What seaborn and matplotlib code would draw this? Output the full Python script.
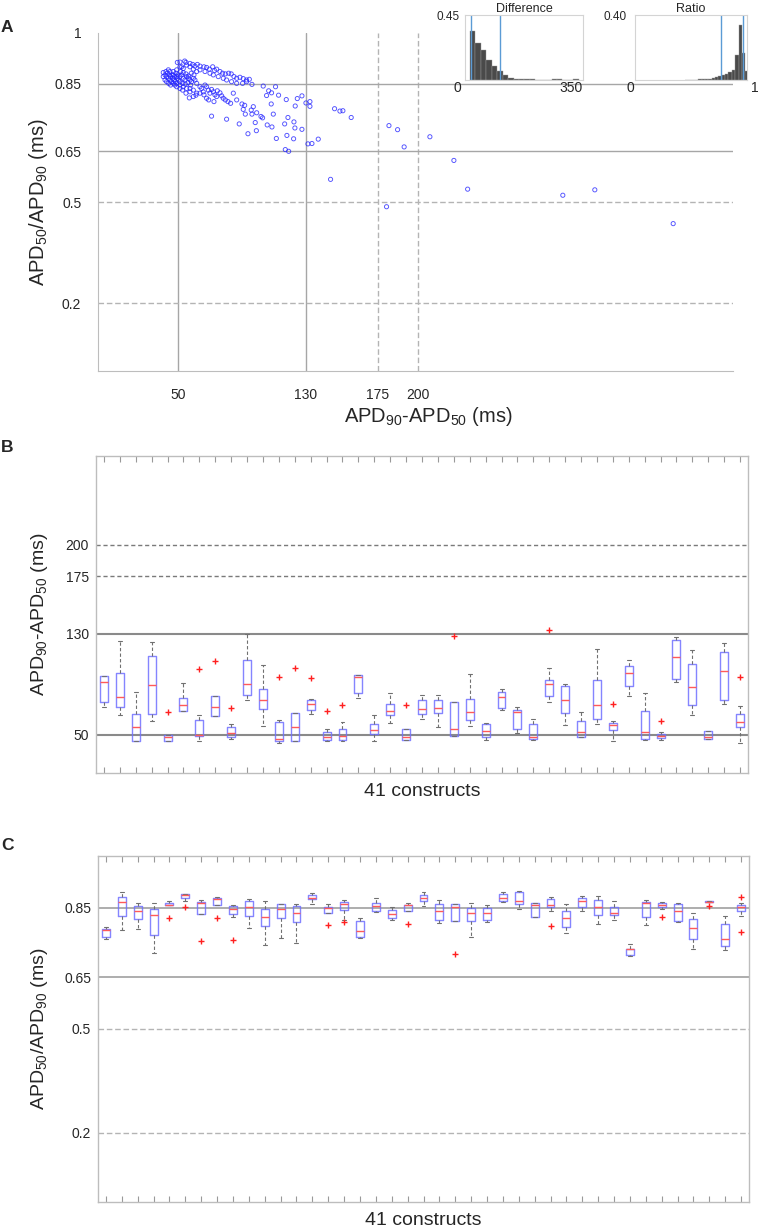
import matplotlib
matplotlib.use('Agg')
import matplotlib.pyplot as plt
import seaborn as sns
import numpy as np
import pandas as pd

# ---------------- panel A: APD90-APD50 vs APD50/APD90 ----------------
diff_ms = [
    # sparse points
    57.1, 71.0, 80.4, 88.3, 93.75, 99.0, 103.3, 111.0, 106.7, 108.5, 105.4, 112.9, 108.3, 109.6,
    117.7, 124.6, 127.5, 123.3, 130.0, 132.5, 132.5, 118.75, 116.7, 122.5, 123.1, 127.5, 118.1,
    122.3, 111.5, 105.8, 108.75, 101.9, 102.9, 98.3, 96.25, 99.2, 95.8, 97.1, 91.7, 90.8, 90.0,
    92.1, 117.1, 119.2, 131.25, 133.75, 137.7, 147.9, 151.25, 153.1, 158.3, 145.4, 180.4, 181.9,
    187.3, 191.4, 207.5, 222.5, 231.1, 290.6, 310.6, 359.6,
    # upper band
    49.6, 51.25, 54.2, 55.0, 52.3, 57.5, 59.2, 60.6, 62.1, 63.75, 66.25, 67.9, 69.6, 71.7, 72.9,
    74.2, 76.25, 77.9, 79.6, 81.7, 83.3, 85.0, 86.7, 88.75, 90.8, 92.9, 94.6, 96.25, 90.4, 92.9,
    86.7, 83.5, 80.4, 78.3, 75.2, 72.1, 70.0, 66.9, 63.75, 61.7, 59.6, 57.5, 55.4, 53.3, 51.25,
    # lower band
    49.2, 51.25, 53.3, 55.4, 57.5, 59.6, 61.7, 63.75, 64.8, 65.8, 66.9, 67.9, 69.0, 70.0, 71.0,
    72.1, 73.1, 74.2, 74.6, 76.25, 77.3, 78.3, 79.6, 81.25, 82.9, 84.6, 86.7, 67.9, 69.2, 72.5,
    66.25, 63.75, 61.25, 59.6, 57.5, 55.0, 52.9, 51.25,
    # dense cluster
    40.8, 41.9, 42.9, 44.0, 45.0, 46.0, 47.1, 48.1, 49.2, 42.5, 43.3, 44.6, 45.4, 46.7, 47.5,
    48.3, 49.6, 50.4, 51.25, 52.3, 53.3, 54.4, 55.4, 56.5, 57.5, 58.5, 59.6, 60.6, 61.7, 41.9,
    42.9, 44.2, 45.4, 46.3, 47.9, 48.75, 50.0, 51.7, 53.3, 55.0, 56.7, 58.3, 60.0, 45.0, 47.1,
    49.2, 40.8, 44.0, 51.25, 52.9, 54.6, 56.25, 57.9, 47.1, 49.2,
]
ratio = [
    0.808, 0.754, 0.745, 0.731, 0.702, 0.711, 0.843, 0.841, 0.829, 0.823, 0.815, 0.816, 0.790, 0.760,
    0.803, 0.806, 0.814, 0.784, 0.793, 0.797, 0.783, 0.750, 0.731, 0.737, 0.719, 0.715, 0.697,
    0.687, 0.688, 0.728, 0.722, 0.753, 0.749, 0.735, 0.760, 0.764, 0.772, 0.782, 0.786, 0.774, 0.790,
    0.760, 0.655, 0.650, 0.672, 0.673, 0.686, 0.776, 0.769, 0.770, 0.750, 0.567, 0.486, 0.726,
    0.714, 0.663, 0.693, 0.623, 0.538, 0.520, 0.536, 0.436,
    0.913, 0.914, 0.917, 0.913, 0.900, 0.910, 0.907, 0.902, 0.907, 0.902, 0.900, 0.898, 0.893, 0.900, 0.889,
    0.893, 0.886, 0.881, 0.879, 0.881, 0.879, 0.871, 0.866, 0.869, 0.865, 0.861, 0.863, 0.848, 0.851, 0.856,
    0.851, 0.856, 0.861, 0.866, 0.871, 0.876, 0.881, 0.886, 0.891, 0.886, 0.893, 0.900, 0.905, 0.895, 0.900,
    0.851, 0.846, 0.841, 0.836, 0.836, 0.831, 0.822, 0.841, 0.836, 0.826, 0.846, 0.841, 0.831, 0.822, 0.833,
    0.826, 0.817, 0.812, 0.829, 0.823, 0.814, 0.807, 0.802, 0.797, 0.792, 0.822, 0.802, 0.807, 0.802, 0.797,
    0.817, 0.822, 0.816, 0.812, 0.826, 0.822, 0.831, 0.836,
    0.883, 0.876, 0.871, 0.866, 0.861, 0.856, 0.851, 0.846, 0.841, 0.886, 0.881, 0.876, 0.871, 0.866, 0.861,
    0.856, 0.866, 0.861, 0.871, 0.876, 0.866, 0.861, 0.871, 0.866, 0.861, 0.856, 0.866, 0.861, 0.851, 0.861,
    0.856, 0.851, 0.846, 0.876, 0.871, 0.881, 0.876, 0.886, 0.883, 0.879, 0.873, 0.881, 0.876, 0.886, 0.886,
    0.891, 0.871, 0.891, 0.856, 0.851, 0.849, 0.853, 0.846, 0.876, 0.871,
]

# inset histograms (fraction of cells per bin)
diff_bin_edges = [47, 62, 77, 92, 107, 122, 137, 152, 167, 182, 197, 212, 227, 242, 257, 272,
                  287, 302, 317, 332, 347]
diff_fraction = [0.339, 0.258, 0.208, 0.138, 0.097, 0.065, 0.035, 0.012, 0.008, 0.008, 0.006,
                 0.006, 0.002, 0.0, 0.0, 0.004, 0.004, 0.0, 0.0, 0.004]
ratio_bin_edges = [0.33, 0.36, 0.39, 0.42, 0.45, 0.48, 0.51, 0.54, 0.57, 0.60, 0.63, 0.66, 0.69,
                   0.72, 0.75, 0.78, 0.81, 0.84, 0.87, 0.90]
ratio_fraction = [0.003, 0.0, 0.003, 0.003, 0.004, 0.004, 0.006, 0.008, 0.012, 0.02, 0.025, 0.03,
                  0.037, 0.05, 0.062, 0.154, 0.338, 0.164, 0.057]

# ---------------- panel B: APD90-APD50 per construct ----------------
b_lo = [72.4, 65.5, 45.5, 60.8, 45.5, 69.2, 45.3, 65.2, 46.8, 77.6, 57.4, 44.0, 45.0, 66.2, 45.5,
        45.5, 79.0, 45.0, 59.7, 46.0, 62.9, 56.6, 49.2, 57.4, 46.0, 69.7, 51.3, 46.0, 75.7, 58.1,
        48.2, 58.4, 45.0, 80.5, 46.0, 46.0, 92.1, 65.5, 46.8, 74.1, 44.0]
b_q1 = [76.3, 71.8, 45.5, 66.8, 45.5, 69.2, 49.2, 65.2, 48.4, 81.3, 70.8, 45.0, 45.0, 69.9, 46.0,
        46.0, 82.8, 51.0, 66.0, 46.0, 66.2, 67.6, 49.2, 61.8, 48.2, 71.0, 54.4, 47.0, 80.5, 67.6,
        48.2, 62.9, 53.7, 88.4, 47.0, 47.6, 94.2, 73.4, 46.8, 77.3, 56.1]
b_med = [91.8, 79.7, 56.3, 89.2, 48.2, 73.4, 50.0, 72.3, 51.3, 90.0, 77.6, 47.0, 56.3, 74.6, 48.2,
         49.2, 95.5, 53.7, 68.9, 48.4, 70.2, 71.0, 54.4, 67.8, 53.4, 79.8, 67.8, 48.0, 89.9, 77.3,
         52.1, 73.4, 57.9, 99.2, 52.1, 49.2, 111.3, 87.6, 48.7, 100.3, 60.0]
b_q3 = [96.8, 98.7, 66.8, 112.1, 49.8, 79.5, 61.6, 80.5, 56.3, 108.9, 86.1, 60.0, 67.0, 77.2, 52.6,
        55.0, 97.4, 58.9, 74.1, 55.0, 77.6, 77.3, 75.7, 78.0, 58.4, 83.7, 69.9, 58.9, 93.1, 88.4,
        60.8, 93.4, 59.5, 104.2, 68.7, 51.0, 125.2, 105.7, 52.9, 115.7, 66.8]
b_hi = [96.8, 124.0, 84.0, 123.2, 49.8, 90.8, 65.5, 80.5, 58.4, 129.7, 105.0, 62.1, 67.0, 78.0, 55.0,
        60.5, 97.4, 65.5, 82.8, 55.0, 81.7, 81.6, 75.7, 97.9, 59.7, 86.1, 71.7, 62.9, 103.1, 90.5,
        68.4, 117.6, 61.3, 108.9, 83.4, 52.6, 127.6, 116.8, 52.9, 122.3, 73.1]
b_out_idx = [4, 6, 7, 8, 11, 12, 13, 14, 15, 19, 22, 28, 32, 35, 40]
b_out_val = [68.4, 102.1, 108.4, 71.0, 95.5, 102.6, 94.7, 68.9, 73.9, 73.4, 127.9, 132.6, 74.5, 60.8, 96.1]

# ---------------- panel C: APD50/APD90 per construct ----------------
c_lo = [.761, .785, .788, .721, .857, .871, .831, .859, .825, .792, .743, .762, .750, .862, .835,
        .815, .764, .837, .815, .841, .856, .805, .811, .767, .808, .868, .847, .825, .842, .778,
        .840, .804, .815, .710, .802, .847, .808, .732, .866, .729, .828]
c_q1 = [.765, .828, .819, .772, .857, .879, .831, .859, .831, .826, .798, .822, .808, .875, .835,
        .845, .767, .841, .821, .841, .870, .816, .811, .811, .816, .871, .860, .825, .852, .795,
        .852, .830, .830, .715, .824, .852, .811, .761, .867, .740, .841]
c_med = [.785, .866, .841, .829, .859, .887, .863, .875, .846, .854, .823, .848, .836, .879, .851,
         .862, .782, .856, .833, .857, .878, .842, .852, .836, .834, .879, .871, .857, .859, .820,
         .871, .852, .835, .731, .864, .859, .841, .793, .868, .761, .852]
c_q3 = [.789, .881, .856, .846, .865, .889, .866, .879, .855, .869, .846, .862, .856, .888, .852,
        .866, .811, .863, .843, .859, .887, .862, .860, .849, .850, .889, .895, .863, .875, .840,
        .878, .872, .853, .732, .866, .864, .862, .818, .869, .804, .859]
c_hi = [.794, .895, .864, .864, .869, .891, .873, .882, .859, .875, .869, .862, .862, .894, .862,
        .872, .820, .879, .852, .863, .896, .874, .861, .864, .859, .896, .898, .863, .881, .862,
        .884, .885, .871, .745, .872, .867, .865, .836, .869, .826, .863]
c_out_idx = [4, 5, 6, 7, 8, 14, 15, 19, 22, 28, 35, 38, 40, 40]
c_out_val = [.821, .854, .753, .821, .756, .800, .809, .804, .716, .797, .825, .856, .882, .779]

W, H = 759, 1232
LIGHT = '#bdbdbd'
GRID_SOLID = '#a6a6a6'
GRID_DASH = '#b4b4b4'


def frac(l, t, r, b):
    # pixel box -> figure fraction rect
    return [l / W, 1 - b / H, (r - l) / W, (b - t) / H]


def box_frame(lo, q1, med, q3, hi):
    rows = []
    for i in range(len(lo)):
        for v in (lo[i], q1[i], med[i], q3[i], hi[i]):
            rows.append((i, v))
    return pd.DataFrame(rows, columns=['construct', 'value'])


def draw_boxes(ax, df, out_idx, out_val):
    sns.boxplot(data=df, x='construct', y='value', ax=ax, whis=(0, 100), fill=False, width=0.5,
                boxprops=dict(color='#7070ff', linewidth=1.0, alpha=0.85),
                medianprops=dict(color='#ff5a5a', linewidth=1.0),
                whiskerprops=dict(color='#707070', linewidth=0.8, linestyle=(0, (3, 2))),
                capprops=dict(color='#707070', linewidth=0.8),
                showfliers=False)
    sns.scatterplot(x=out_idx, y=out_val, ax=ax, marker='+', color='#ff2020', s=22,
                    linewidth=1.0, zorder=5)
    ax.set_xlim(-0.5, 40.5)
    ax.set_xticks(range(41))
    ax.set_xticklabels([])
    ax.tick_params(axis='x', direction='in', top=True, bottom=True, length=4, width=0.8,
                   color='#999999')
    ax.tick_params(axis='y', length=0, labelsize=10, pad=5)
    ax.set_xlabel('41 constructs', fontsize=14)
    for s in ax.spines.values():
        s.set_color(LIGHT)
        s.set_linewidth(1.0)


def main():
    sns.set_style('white')
    plt.rcParams['font.family'] = ['Liberation Sans', 'DejaVu Sans']
    plt.rcParams['mathtext.fontset'] = 'custom'
    plt.rcParams['mathtext.rm'] = 'Liberation Sans'

    fig = plt.figure(figsize=(W / 100, H / 100), dpi=100)

    # ----- A -----
    axA = fig.add_axes(frac(98, 33, 733, 371))
    for x in (50, 130):
        axA.axvline(x, color=GRID_SOLID, lw=1.0, zorder=1)
    for x in (175, 200):
        axA.axvline(x, color=GRID_DASH, lw=1.0, ls=(0, (4, 2)), zorder=1)
    for y in (0.85, 0.65):
        axA.axhline(y, color=GRID_SOLID, lw=1.0, zorder=1)
    for y in (0.5, 0.2):
        axA.axhline(y, color=GRID_DASH, lw=1.0, ls=(0, (4, 2)), zorder=1)
    sns.scatterplot(x=diff_ms, y=ratio, ax=axA, facecolor='none', edgecolor='#2424ff', s=9,
                    linewidth=0.65, alpha=0.8, zorder=3)
    axA.set_xlim(0, 397)
    axA.set_ylim(0, 1)
    axA.set_xticks([50, 130, 175, 200])
    axA.set_yticks([0.2, 0.5, 0.65, 0.85, 1])
    axA.set_yticklabels(['0.2', '0.5', '0.65', '0.85', '1'])
    axA.tick_params(axis='x', length=0, labelsize=10, pad=12)
    axA.tick_params(axis='y', direction='in', length=0, labelsize=10, pad=12)
    axA.spines['top'].set_visible(False)
    axA.spines['right'].set_visible(False)
    axA.spines['left'].set_color(LIGHT)
    axA.spines['bottom'].set_color(LIGHT)
    axA.set_xlabel('APD$_{90}$-APD$_{50}$ (ms)', fontsize=14.5)
    axA.set_ylabel('APD$_{50}$/APD$_{90}$ (ms)', fontsize=14.5)
    axA.xaxis.set_label_coords(0.52, -0.1)
    axA.yaxis.set_label_coords(-0.076, 0.5)

    # insets
    axD = fig.add_axes(frac(465, 15, 583, 80))
    sns.histplot(x=diff_bin_edges[:-1], weights=diff_fraction, bins=diff_bin_edges, ax=axD,
                 color='#4a4a4a', edgecolor='#9a9a9a', linewidth=0.3, alpha=1.0)
    for x in (50, 130):
        axD.axvline(x, color='#5b9bd5', lw=1.0)
    axD.set_xlim(33, 359)
    axD.set_ylim(0, 0.45)
    axD.set_title('Difference', fontsize=9, pad=2)

    axR = fig.add_axes(frac(635, 15, 747, 80))
    sns.histplot(x=ratio_bin_edges[:-1], weights=ratio_fraction, bins=ratio_bin_edges, ax=axR,
                 color='#4a4a4a', edgecolor='#9a9a9a', linewidth=0.3, alpha=1.0)
    for x in (0.65, 0.85):
        axR.axvline(x, color='#5b9bd5', lw=1.0)
    axR.set_xlim(-0.118, 0.886)
    axR.set_ylim(0, 0.40)
    axR.set_title('Ratio', fontsize=9, pad=2)

    for ax in (axD, axR):
        ax.set_xticks([])
        ax.set_yticks([])
        ax.set_xlabel('')
        ax.set_ylabel('')
        for s in ax.spines.values():
            s.set_color('#d4d4d4')
            s.set_linewidth(0.8)

    fig.text(460 / W, 1 - 17 / H, '0.45', fontsize=8.5, ha='right', va='center')
    fig.text(627 / W, 1 - 17 / H, '0.40', fontsize=8.5, ha='right', va='center')
    fig.text(457 / W, 1 - 88 / H, '0', fontsize=10, ha='center', va='center')
    fig.text(571 / W, 1 - 88 / H, '350', fontsize=10, ha='center', va='center')
    fig.text(630 / W, 1 - 88 / H, '0', fontsize=10, ha='center', va='center')
    fig.text(755 / W, 1 - 88 / H, '1', fontsize=10, ha='center', va='center')

    # ----- B -----
    axB = fig.add_axes(frac(96, 456, 748, 773))
    for y in (130, 50):
        axB.axhline(y, color='#8a8a8a', lw=1.5, zorder=1)
    for y in (175, 200):
        axB.axhline(y, color='#7a7a7a', lw=1.0, ls=(0, (3, 2)), zorder=1)
    draw_boxes(axB, box_frame(b_lo, b_q1, b_med, b_q3, b_hi), b_out_idx, b_out_val)
    axB.set_ylim(20, 270)
    axB.set_yticks([50, 130, 175, 200])
    axB.set_ylabel('APD$_{90}$-APD$_{50}$ (ms)', fontsize=14)
    axB.yaxis.set_label_coords(-0.07, 0.5)

    # ----- C -----
    axC = fig.add_axes(frac(98, 856, 749, 1202))
    for y in (0.85, 0.65):
        axC.axhline(y, color='#a0a0a0', lw=1.2, zorder=1)
    for y in (0.5, 0.2):
        axC.axhline(y, color=GRID_DASH, lw=1.0, ls=(0, (4, 2)), zorder=1)
    draw_boxes(axC, box_frame(c_lo, c_q1, c_med, c_q3, c_hi), c_out_idx, c_out_val)
    axC.set_ylim(0, 1)
    axC.set_yticks([0.2, 0.5, 0.65, 0.85])
    axC.set_yticklabels(['0.2', '0.5', '0.65', '0.85'])
    axC.set_ylabel('APD$_{50}$/APD$_{90}$ (ms)', fontsize=14)
    axC.yaxis.set_label_coords(-0.074, 0.5)

    fig.text(1 / W, 1 - 27 / H, 'A', fontsize=12.5, fontweight='bold', va='center')
    fig.text(1 / W, 1 - 447 / H, 'B', fontsize=12.5, fontweight='bold', va='center')
    fig.text(1 / W, 1 - 845 / H, 'C', fontsize=12.5, fontweight='bold', va='center')

    fig.savefig('out.png', dpi=100)
    plt.close(fig)


if __name__ == '__main__':
    main()
